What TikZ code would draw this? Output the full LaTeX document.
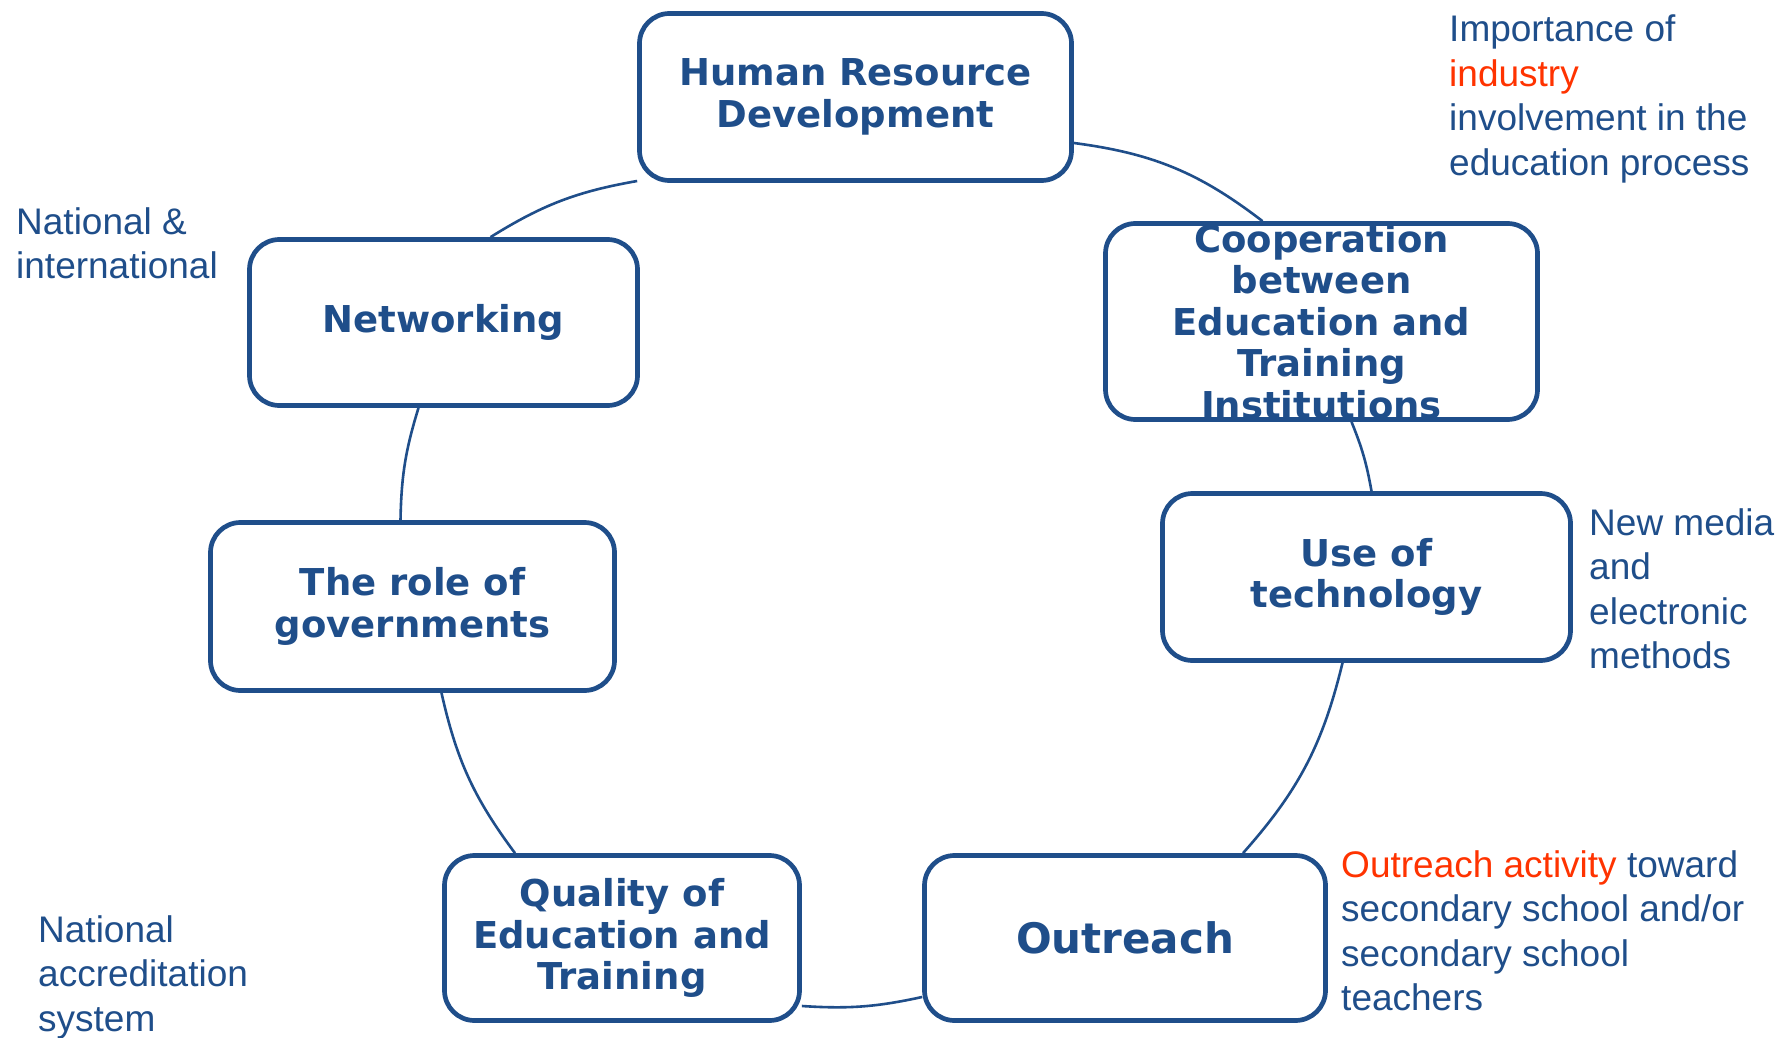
\documentclass[tikz,border=0pt]{standalone}
\usepackage{fontspec}
\setmainfont{Liberation Sans}
\newfontfamily\boxfont{DejaVu Sans}
\usetikzlibrary{backgrounds}
\definecolor{dblue}{HTML}{1F4E8A}
\definecolor{ored}{HTML}{FF3300}
\begin{document}
\begin{tikzpicture}[x=1pt,y=1pt,
  box/.style={draw=dblue, line width=4.7pt, rounded corners=30pt, fill=white, align=center, inner sep=0pt, text=dblue, font=\boxfont\bfseries\fontsize{37}{41.5}\selectfont},
  link/.style={draw=dblue, line width=2.6pt},
  note/.style={anchor=north west, align=left, inner sep=0pt, text=dblue, font=\fontsize{37}{44.5}\selectfont}]
\useasboundingbox (0,0) rectangle (1792,-1038);
\node[box, minimum width=432pt, minimum height=167pt] (hrd) at (855.5,-97) {Human Resource\\Development};
\node[box, minimum width=432pt, minimum height=196pt] (coop) at (1321.5,-321.5) {Cooperation\\between\\Education and\\Training\\Institutions};
\node[box, minimum width=408pt, minimum height=167pt] (uot) at (1366.5,-577) {Use of\\technology};
\node[box, minimum width=401pt, minimum height=165pt, font=\boxfont\bfseries\fontsize{42}{46}\selectfont] (outreach) at (1125,-938) {Outreach};
\node[box, minimum width=355pt, minimum height=165pt] (quality) at (622,-938) {Quality of\\Education and\\Training};
\node[box, minimum width=404pt, minimum height=168pt] (govt) at (412.5,-606.5) {The role of\\governments};
\node[box, minimum width=388pt, minimum height=166pt] (net) at (443.5,-322.5) {Networking};
\begin{scope}[on background layer]
\fill[white] (0,0) rectangle (1792,-1038);
\draw[link] ([yshift=-46pt]hrd.east) to[bend left=15] ([xshift=-59pt]coop.north);
\draw[link] ([xshift=30pt]coop.south) to[bend left=6] ([xshift=5pt]uot.north);
\draw[link] ([xshift=-24pt]uot.south) to[bend left=14] ([xshift=118pt]outreach.north);
\draw[link] ([yshift=-59pt]outreach.west) to[bend left=8] ([yshift=-68pt]quality.east);
\draw[link] ([xshift=-107pt]quality.north) to[bend left=12] ([xshift=29pt]govt.south);
\draw[link] ([xshift=-12pt]govt.north) to[bend left=8] ([xshift=-25pt]net.south);
\draw[link] ([xshift=47pt]net.north) to[bend left=11] ([yshift=-84pt]hrd.west);
\end{scope}
\node[note] (n1) at (1449,-15) {Importance of\\\textcolor{ored}{industry}\\involvement in the\\education process};
\node[note] (n2) at (1589,-508) {New media\\and\\electronic\\methods};
\node[note] (n3) at (1341,-850) {\textcolor{ored}{Outreach activity} toward\\secondary school and/or\\secondary school\\teachers};
\node[note] (n4) at (16,-207) {National \&\\international};
\node[note] (n5) at (38,-915) {National\\accreditation\\system};
\end{tikzpicture}
\end{document}
